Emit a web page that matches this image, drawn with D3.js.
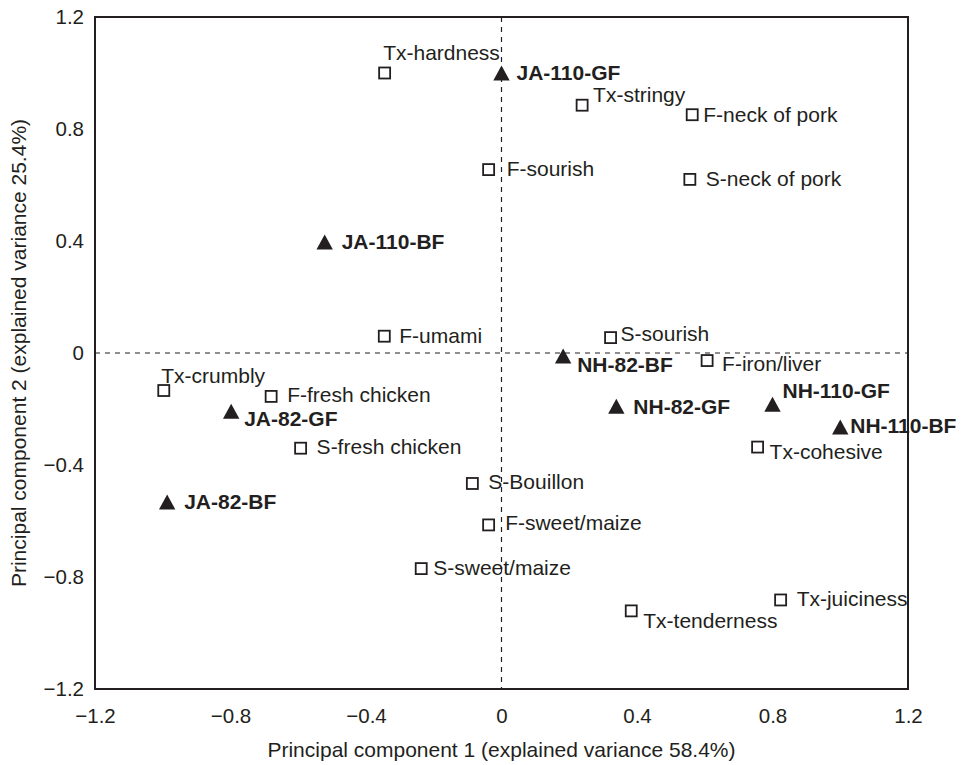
<!DOCTYPE html>
<html>
<head>
<meta charset="utf-8">
<script src="https://cdn.jsdelivr.net/npm/d3@7"></script>
<style>
  body { margin: 0; background: #fff; }
  svg text { font-family: "Liberation Sans", Arial, Helvetica, sans-serif; fill: #231f20; }
</style>
</head>
<body>
<svg id="chart" width="961" height="765"></svg>
<script>
// sensory attributes (open squares)
var attrNames = ["Tx-hardness", "Tx-stringy", "F-neck of pork", "F-sourish", "S-neck of pork",
    "F-umami", "S-sourish", "F-iron/liver", "Tx-crumbly", "F-fresh chicken", "S-fresh chicken",
    "Tx-cohesive", "S-Bouillon", "F-sweet/maize", "S-sweet/maize", "Tx-tenderness", "Tx-juiciness"];
var attrPC1 = [-0.345, 0.238, 0.563, -0.038, 0.556, -0.346, 0.322, 0.607, -0.997, -0.680, -0.593,
    0.756, -0.086, -0.038, -0.237, 0.383, 0.824];
var attrPC2 = [1.000, 0.885, 0.851, 0.655, 0.620, 0.060, 0.055, -0.027, -0.134, -0.155, -0.340,
    -0.336, -0.466, -0.614, -0.770, -0.921, -0.882];

// samples (filled triangles)
var sampleNames = ["JA-110-GF", "JA-110-BF", "NH-82-BF", "JA-82-GF", "NH-82-GF", "NH-110-GF",
    "NH-110-BF", "JA-82-BF"];
var samplePC1 = [0.000, -0.522, 0.182, -0.798, 0.339, 0.800, 1.000, -0.987];
var samplePC2 = [1.000, 0.396, -0.011, -0.208, -0.190, -0.183, -0.264, -0.532];

var ticks = [-1.2, -0.8, -0.4, 0, 0.4, 0.8, 1.2];

// label placement (pixel offsets from the marker), layout only
var attrLabelDx = [-1.5, 11, 11, 18, 16, 15, 10, 15, -2.5, 16, 16, 12, 16, 16.5, 12, 12, 16];
var attrLabelDy = [-13, -3, 7.5, 6.5, 7, 6.5, 3, 10, -8, 6, 6, 11.5, 6, 5, 6.5, 17, 6.5];
var sampleLabelDx = [15, 17, 14, 13, 17, 10, 10, 17];
var sampleLabelDy = [7, 7, 16, 14.5, 7.5, -6.5, 6.5, 7];

var svg = d3.select("#chart");
var margin = { left: 95, right: 53, top: 17, bottom: 76 };
var width = +svg.attr("width"), height = +svg.attr("height");

var x = d3.scaleLinear().domain([-1.2, 1.2]).range([margin.left, width - margin.right]);
var y = d3.scaleLinear().domain([-1.2, 1.2]).range([height - margin.bottom, margin.top]);

var fmt = function (d) { return d === 0 ? "0" : d3.format(".1f")(d).replace("-", "\u2013"); };

// axes (labels only, no tick marks)
var xAxis = svg.append("g")
    .attr("transform", "translate(0," + y(-1.2) + ")")
    .call(d3.axisBottom(x).tickValues(ticks).tickSize(0).tickPadding(19).tickFormat(fmt));
var yAxis = svg.append("g")
    .attr("transform", "translate(" + x(-1.2) + ",0)")
    .call(d3.axisLeft(y).tickValues(ticks).tickSize(0).tickPadding(11).tickFormat(fmt));
[xAxis, yAxis].forEach(function (a) {
    a.select(".domain").remove();
    a.selectAll("text").attr("font-size", "20.5px").style("font-family", null);
});

// zero lines
svg.append("line")
    .attr("x1", x(0)).attr("x2", x(0)).attr("y1", y(1.2)).attr("y2", y(-1.2))
    .attr("stroke", "#231f20").attr("stroke-width", 1.2).attr("stroke-dasharray", "5,5");
svg.append("line")
    .attr("x1", x(-1.2)).attr("x2", x(1.2)).attr("y1", y(0)).attr("y2", y(0))
    .attr("stroke", "#231f20").attr("stroke-width", 1.2).attr("stroke-dasharray", "5,5");

// frame
svg.append("rect")
    .attr("x", x(-1.2)).attr("y", y(1.2))
    .attr("width", x(1.2) - x(-1.2)).attr("height", y(-1.2) - y(1.2))
    .attr("fill", "none").attr("stroke", "#231f20").attr("stroke-width", 2);

// attribute squares
var attrs = attrNames.map(function (n, i) {
    return { name: n, pc1: attrPC1[i], pc2: attrPC2[i], dx: attrLabelDx[i], dy: attrLabelDy[i] };
});
var ag = svg.append("g").selectAll("g").data(attrs).enter().append("g")
    .attr("transform", function (d) { return "translate(" + x(d.pc1) + "," + y(d.pc2) + ")"; });
ag.append("rect")
    .attr("x", -5.5).attr("y", -5.5).attr("width", 11).attr("height", 11)
    .attr("fill", "#fff").attr("stroke", "#231f20").attr("stroke-width", 1.8);
ag.append("text")
    .attr("x", function (d) { return d.dx; })
    .attr("y", function (d) { return d.dy; })
    .attr("font-size", "21px")
    .text(function (d) { return d.name; });

// sample triangles
var samples = sampleNames.map(function (n, i) {
    return { name: n, pc1: samplePC1[i], pc2: samplePC2[i], dx: sampleLabelDx[i], dy: sampleLabelDy[i] };
});
var sg = svg.append("g").selectAll("g").data(samples).enter().append("g")
    .attr("transform", function (d) { return "translate(" + x(d.pc1) + "," + y(d.pc2) + ")"; });
sg.append("path")
    .attr("d", "M0,-7.5 L8.2,7.5 L-8.2,7.5 Z")
    .attr("fill", "#231f20");
sg.append("text")
    .attr("x", function (d) { return d.dx; })
    .attr("y", function (d) { return d.dy; })
    .attr("font-size", "21px")
    .attr("font-weight", "bold")
    .text(function (d) { return d.name; });

// axis titles
svg.append("text")
    .attr("x", x(0)).attr("y", 757)
    .attr("text-anchor", "middle")
    .attr("font-size", "21px")
    .text("Principal component 1 (explained variance 58.4%)");
svg.append("text")
    .attr("transform", "translate(26," + y(0) + ") rotate(-90)")
    .attr("text-anchor", "middle")
    .attr("font-size", "21px")
    .text("Principal component 2 (explained variance 25.4%)");
</script>
</body>
</html>
